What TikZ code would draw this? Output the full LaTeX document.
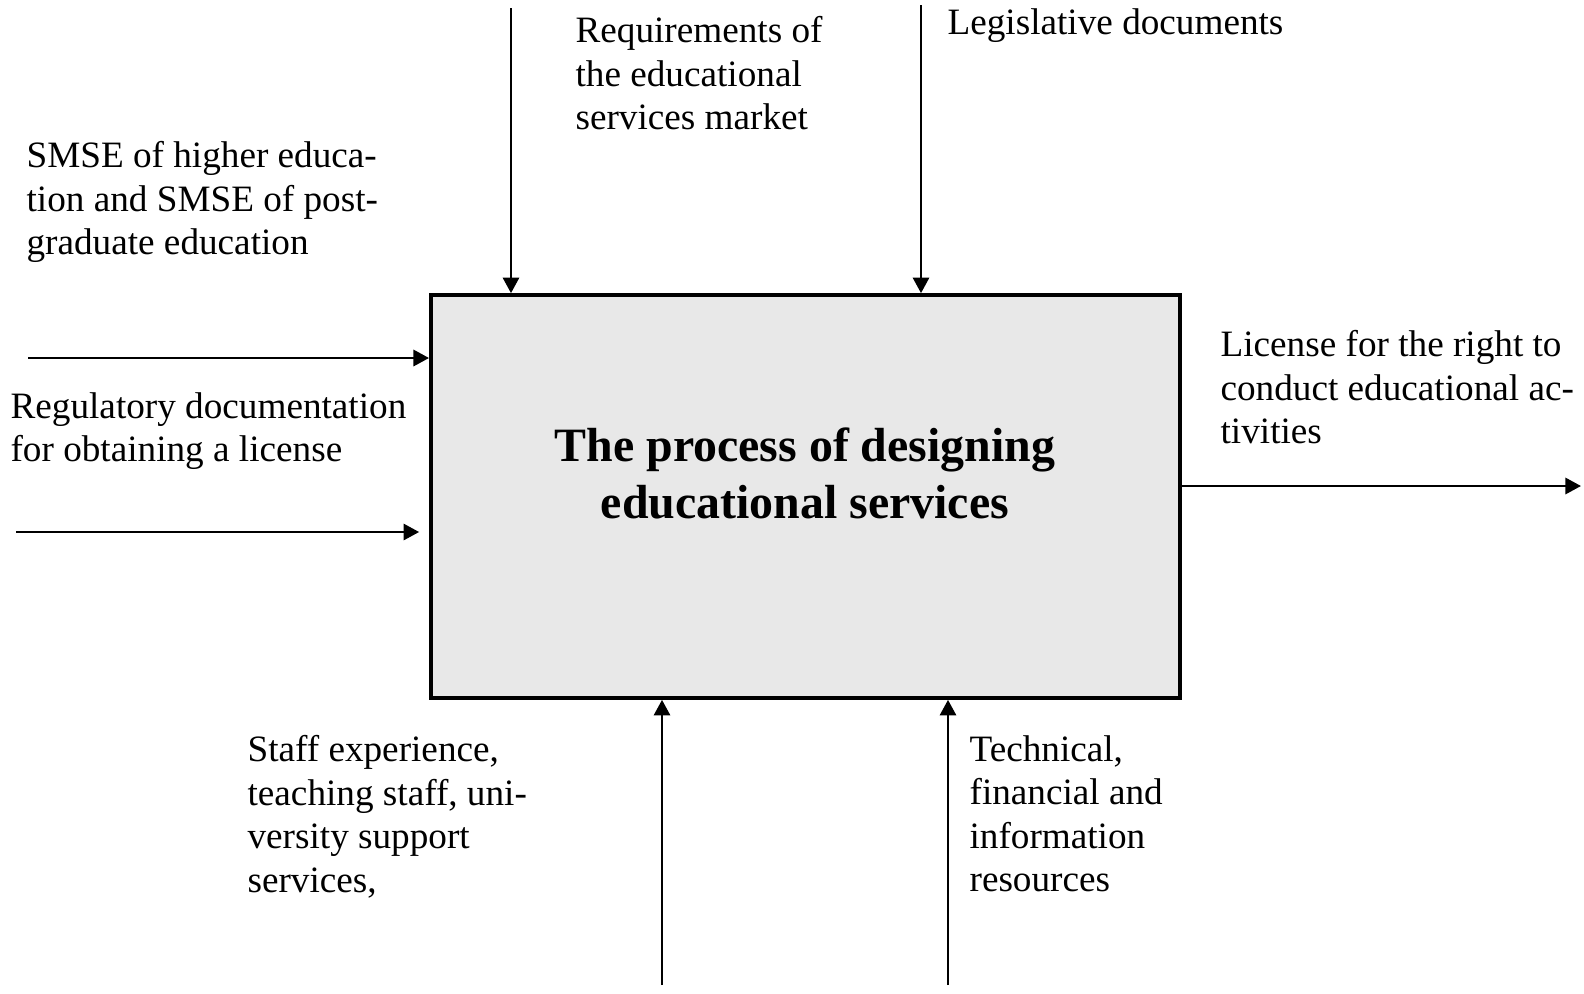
\documentclass[tikz,border=0pt]{standalone}
\usepackage{fontspec}
\setmainfont{Liberation Serif}
\usetikzlibrary{arrows.meta}
\definecolor{boxgray}{RGB}{232,232,232}

\begin{document}
\begin{tikzpicture}[x=0.3333pt,y=-0.3333pt,
  arr/.style={line width=0.85pt,-{Triangle[length=5.2pt,width=5.4pt]}},
  lbl/.style={anchor=north west,inner sep=0pt,align=left,font=\fontsize{12.4}{14.47}\selectfont}]
\useasboundingbox (0,0) rectangle (1584,993);
% central process block
\node[draw,line width=1.25pt,fill=boxgray,inner sep=0pt,minimum width=249.7pt,minimum height=134.3pt] (box) at (805.5,496.5) {};
\node[align=center,inner sep=0pt,font=\fontsize{15.95}{19}\selectfont\bfseries] (title) at (805,473) {The process of designing\\educational services};
% free ends of the arrows
\coordinate (t1) at (511,8);
\coordinate (t2) at (921,5);
\coordinate (l1) at (28,358);
\coordinate (l2) at (16,532);
\coordinate (r1) at (1581,486);
\coordinate (b1) at (662,985);
\coordinate (b2) at (948,985);
\foreach \c in {t1,t2} \draw[arr] (\c) -- (\c |- box.north);
\foreach \c in {b1,b2} \draw[arr] (\c) -- (\c |- box.south);
\draw[arr] (l1) -- (l1 -| box.west);
\draw[arr,shorten >=3.3pt] (l2) -- (l2 -| box.west);
\draw[arr] (box.east |- r1) -- (r1);
% labels
\node[lbl] (req) at (575,16) {Requirements of\\the educational\\services market};
\node[lbl] (leg) at (947,8) {Legislative documents};
\node[lbl] (smse) at (26,141) {SMSE of higher educa-\\tion and SMSE of post-\\graduate education};
\node[lbl] (reg) at (10,392) {Regulatory documentation\\for obtaining a license};
\node[lbl] (lic) at (1220,330) {License for the right to\\conduct educational ac-\\tivities};
\node[lbl] (staff) at (247,735) {Staff experience,\\teaching staff, uni-\\versity support\\services,};
\node[lbl] (tech) at (969,735) {Technical,\\financial and\\information\\resources};
\end{tikzpicture}
\end{document}
